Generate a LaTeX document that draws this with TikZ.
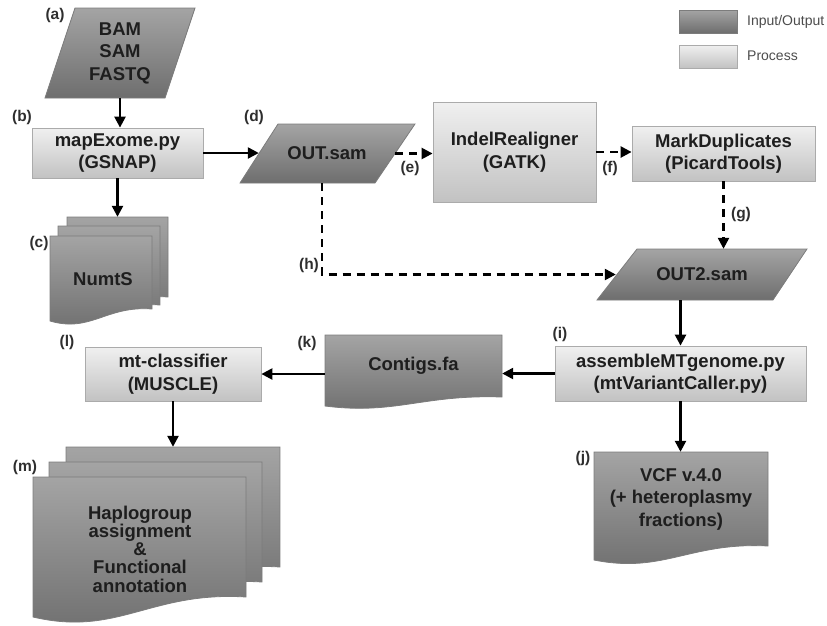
\documentclass[tikz,border=0pt]{standalone}
\usepackage{fontspec}
\setmainfont{Liberation Sans}
\usetikzlibrary{arrows.meta,calc}
\definecolor{iotop}{HTML}{A4A4A4}
\definecolor{iobot}{HTML}{6E6E6E}
\definecolor{ioline}{HTML}{7C7C7C}
\definecolor{prtop}{HTML}{F0F0F0}
\definecolor{prbot}{HTML}{C2C2C2}
\definecolor{prline}{HTML}{ABABAB}
\definecolor{txtc}{HTML}{1E1E1E}
\definecolor{lblc}{HTML}{2E2E2E}
\newcommand\docsheet[5]{% x1, ytop, x2, yright, drop
  \pgfmathsetmacro\mydw{#3-#1}
  \shade[io] (#1,#2) -- (#3,#2) -- (#3,#4)
    .. controls ({#3-0.45*\mydw},{#4-0.3*#5}) and ({#1+0.4*\mydw},{#4+2*#5}) .. (#1,{#4+#5}) -- cycle;}
\tikzset{
  io/.style={top color=iotop, bottom color=iobot, draw=ioline, line width=0.8pt},
  proc/.style={top color=prtop, bottom color=prbot, draw=prline, line width=0.8pt,
    font=\bfseries\fontsize{18.5}{22.5}\selectfont, text=txtc, align=center, inner sep=0pt},
  txt/.style={font=\bfseries\fontsize{18.5}{22.5}\selectfont, text=txtc, align=center, inner sep=0pt},
  anchorbox/.style={inner sep=0pt, draw=none},
  lbl/.style={font=\bfseries\fontsize{15.5}{17}\selectfont, text=lblc, inner sep=0pt},
  legtxt/.style={font=\fontsize{14}{16}\selectfont, text=black!70, anchor=west, inner sep=0pt},
  arr/.style={line width=2.4pt, -{Triangle[length=11pt,width=11pt]}},
  darr/.style={arr, dash pattern=on 8pt off 6pt},
}
\begin{document}
\begin{tikzpicture}[x=1pt,y=-1pt]
\useasboundingbox (0,0) rectangle (827,625);

% legend
\shade[io] (679,10) rectangle (737,33);
\shade[top color=prtop, bottom color=prbot, draw=prline, line width=0.8pt] (679,45) rectangle (737,68);
\node[legtxt] (legio) at (747,22) {Input/Output};
\node[legtxt] (legpr) at (747,56) {Process};

% (a) input parallelogram
\shade[io] (75,8) -- (195,8) -- (165,98) -- (45,98) -- cycle;
\node[txt, minimum width=150pt, minimum height=90pt] (a) at (120,53) {BAM\\SAM\\FASTQ};

% (b) mapExome
\node[proc, minimum width=171pt, minimum height=50pt] (b) at (117.5,153) {mapExome.py\\(GSNAP)};

% (c) NumtS stack
\docsheet{67}{217}{168}{297}{12}
\docsheet{58}{226}{160}{305}{12}
\docsheet{50}{236}{152}{309}{12}
\node[anchorbox, minimum width=101pt, minimum height=80pt] (cstack) at (117.5,257) {};
\node[txt] (c) at (103,279) {NumtS};

% (d) OUT.sam
\shade[io] (278,124) -- (415,124) -- (375,183) -- (240,183) -- cycle;
\node[txt, minimum width=136pt, minimum height=59pt] (d) at (327,153.5) {OUT.sam};

% IndelRealigner
\node[proc, minimum width=163pt, minimum height=100pt] (ir) at (514.5,152) {IndelRealigner\\(GATK)};

% MarkDuplicates
\node[proc, minimum width=183pt, minimum height=55pt] (md) at (723.5,153.5) {MarkDuplicates\\(PicardTools)};

% OUT2.sam
\shade[io] (637,249) -- (807,249) -- (773,300) -- (597,300) -- cycle;
\node[txt, minimum width=172pt, minimum height=51pt] (out2) at (702,274.5) {OUT2.sam};

% (i) assemble
\node[proc, minimum width=251pt, minimum height=55pt] (i) at (680.5,373.5) {assembleMTgenome.py\\(mtVariantCaller.py)};

% (j) VCF
\docsheet{594}{452}{768}{546}{14}
\node[txt, minimum width=174pt, minimum height=94pt] (j) at (681,499) {VCF v.4.0\\(+ heteroplasmy\\fractions)};

% (k) Contigs
\docsheet{325}{335}{502}{397}{9}
\node[txt, minimum width=177pt, minimum height=62pt] (k) at (413.5,366) {Contigs.fa};

% (l) mt-classifier
\node[proc, minimum width=176pt, minimum height=54pt] (l) at (173,374) {mt-classifier\\(MUSCLE)};

% (m) Haplogroup stack
\docsheet{66}{447}{280}{567}{20}
\docsheet{49}{462}{262}{582}{20}
\docsheet{33}{477}{246}{597}{20}
\node[anchorbox, minimum width=214pt, minimum height=120pt] (mstack) at (173,507) {};
\node[txt, font=\bfseries\fontsize{18.5}{18.2}\selectfont] (m) at (140,549) {Haplogroup\\assignment\\\&\\Functional\\annotation};

% labels
\node[lbl] (la) at (55,15) {(a)};
\node[lbl] (lb) at (22,117) {(b)};
\node[lbl] (lc) at (39,243) {(c)};
\node[lbl] (ld) at (254,117) {(d)};
\node[lbl] (le) at (410,168) {(e)};
\node[lbl] (lf) at (610,168) {(f)};
\node[lbl] (lg) at (741,215) {(g)};
\node[lbl] (lh) at (309,265) {(h)};
\node[lbl] (li) at (560,334) {(i)};
\node[lbl] (lj) at (583,458) {(j)};
\node[lbl] (lk) at (307,343) {(k)};
\node[lbl] (ll) at (67,342) {(l)};
\node[lbl] (lm) at (25,467) {(m)};

% connectors
\draw[arr] (a.south) -- (a.south |- b.north);
\draw[arr] (b.south) -- (cstack.north);
\draw[arr] (b.east) -- (b.east -| d.west);
\draw[darr] (d.east) -- (d.east -| ir.west);
\draw[darr] (ir.east) -- (ir.east -| md.west);
\draw[darr] (md.south) -- (md.south |- out2.north);
\draw[darr] ([xshift=-5pt]d.south) |- (out2.west);
\draw[arr] (i.north |- out2.south) -- (i.north);
\draw[arr] (i.south) -- (i.south |- j.north);
\draw[arr] (i.west) -- (i.west -| k.east);
\draw[arr] (k.west |- l.east) -- (l.east);
\draw[arr] (l.south) -- (mstack.north);
\end{tikzpicture}
\end{document}
